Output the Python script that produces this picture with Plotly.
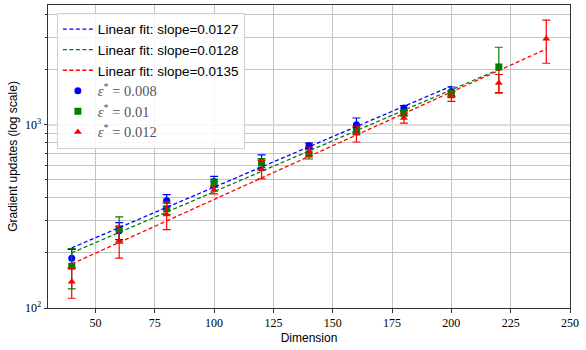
import numpy as np
import plotly.graph_objects as go

# Measured gradient updates per dimension for three target accuracies
dims_008 = [40, 60, 80, 100, 120, 140, 160, 180, 200]
updates_008 = [187, 264, 386, 490, 625, 767, 1000, 1233, 1520]
err_008 = [22, 28, 29, 33, 60, 27, 88, 40, 86]

dims_01 = [40, 60, 80, 100, 120, 140, 160, 180, 200, 220]
updates_01 = [169, 270, 348, 480, 618, 692, 931, 1158, 1476, 2066]
err_01 = [42, 44, 25, 25, 35, 42, 45, 40, 60, 580]

dims_012 = [40, 60, 80, 100, 120, 140, 160, 180, 200, 220, 240]
updates_012 = [139, 233, 324, 441, 573, 714, 893, 1088, 1427, 1689, 2944]
err_012 = [26, 46, 56, 22, 66, 40, 88, 67, 87, 190, 780]

# Exponential fits: ln(updates) = intercept + slope * dimension
fit_slopes = [0.0127, 0.0128, 0.0135]
fit_intercepts = [4.853, 4.786, 4.619]
fit_ranges = [(40, 200), (40, 220), (40, 240)]

eps_labels = ["0.008", "0.01", "0.012"]
colors = ["#0000ff", "#008000", "#ff0000"]
symbols = ["circle", "square", "triangle-up"]

y_tickvals = [100, 1000]
y_ticktext = ["10<sup>2</sup>", "10<sup>3</sup>"]
y_minor = [200, 300, 400, 500, 600, 700, 800, 900, 2000, 3000, 4000]
x_ticks = [50, 75, 100, 125, 150, 175, 200, 225, 250]

series = [
    (dims_008, updates_008, err_008),
    (dims_01, updates_01, err_01),
    (dims_012, updates_012, err_012),
]

fig = go.Figure()

for i, (xs, ys, es) in enumerate(series):
    fig.add_trace(go.Scatter(
        x=xs, y=ys, mode="markers",
        name=(f"<span style='font-family:Liberation Serif;font-size:14.5px;color:#555'>"
              f"<i>ε</i><sup>*</sup> = {eps_labels[i]}</span>"),
        marker=dict(color=colors[i], symbol=symbols[i], size=7),
        error_y=dict(type="data", array=es, visible=True, color=colors[i],
                     thickness=1.2, width=4),
        legendrank=10 + i,
    ))

for i in range(3):
    lo, hi = fit_ranges[i]
    xs = np.linspace(lo, hi, 50)
    ys = np.exp(fit_intercepts[i] + fit_slopes[i] * xs)
    fig.add_trace(go.Scatter(
        x=xs, y=ys, mode="lines",
        name=f"Linear fit: slope={fit_slopes[i]:.4f}",
        line=dict(color=colors[i], width=1.3, dash="4px,2.5px"),
        legendrank=1 + i,
    ))

fig.update_layout(
    width=586, height=350,
    margin=dict(l=48, r=16, t=5, b=42),
    paper_bgcolor="white", plot_bgcolor="white",
    font=dict(family="Liberation Sans", size=12, color="black"),
    showlegend=True,
    legend=dict(
        x=0.017, y=0.974, xanchor="left", yanchor="top",
        bgcolor="rgba(255,255,255,0.85)", bordercolor="#d0d0d0", borderwidth=1,
        font=dict(family="Liberation Sans", size=13.5),
        tracegroupgap=0,
    ),
)

fig.update_xaxes(
    range=[30, 250], tickvals=x_ticks,
    tickfont=dict(family="Liberation Serif", size=12),
    title=dict(text="Dimension", font=dict(family="Liberation Sans", size=12), standoff=4),
    showline=True, linecolor="#333", linewidth=1, mirror=True,
    ticks="outside", ticklen=3.5, tickcolor="#333",
    showgrid=True, gridcolor="#c4c4c4", gridwidth=0.8, zeroline=False,
)

fig.update_yaxes(
    type="log", range=[2, np.log10(4500)],
    tickvals=y_tickvals, ticktext=y_ticktext,
    tickfont=dict(family="Liberation Serif", size=12),
    title=dict(text="Gradient updates (log scale)", font=dict(family="Liberation Sans", size=12), standoff=4),
    showline=True, linecolor="#333", linewidth=1, mirror=True,
    ticks="outside", ticklen=3.5, tickcolor="#333",
    showgrid=True, gridcolor="#dddddd", gridwidth=2, zeroline=False,
    minor=dict(tickvals=y_minor, showgrid=True, gridcolor="#c4c4c4", gridwidth=0.8,
               ticks="outside", ticklen=2, tickcolor="#333"),
)

fig.write_html("out.html")
